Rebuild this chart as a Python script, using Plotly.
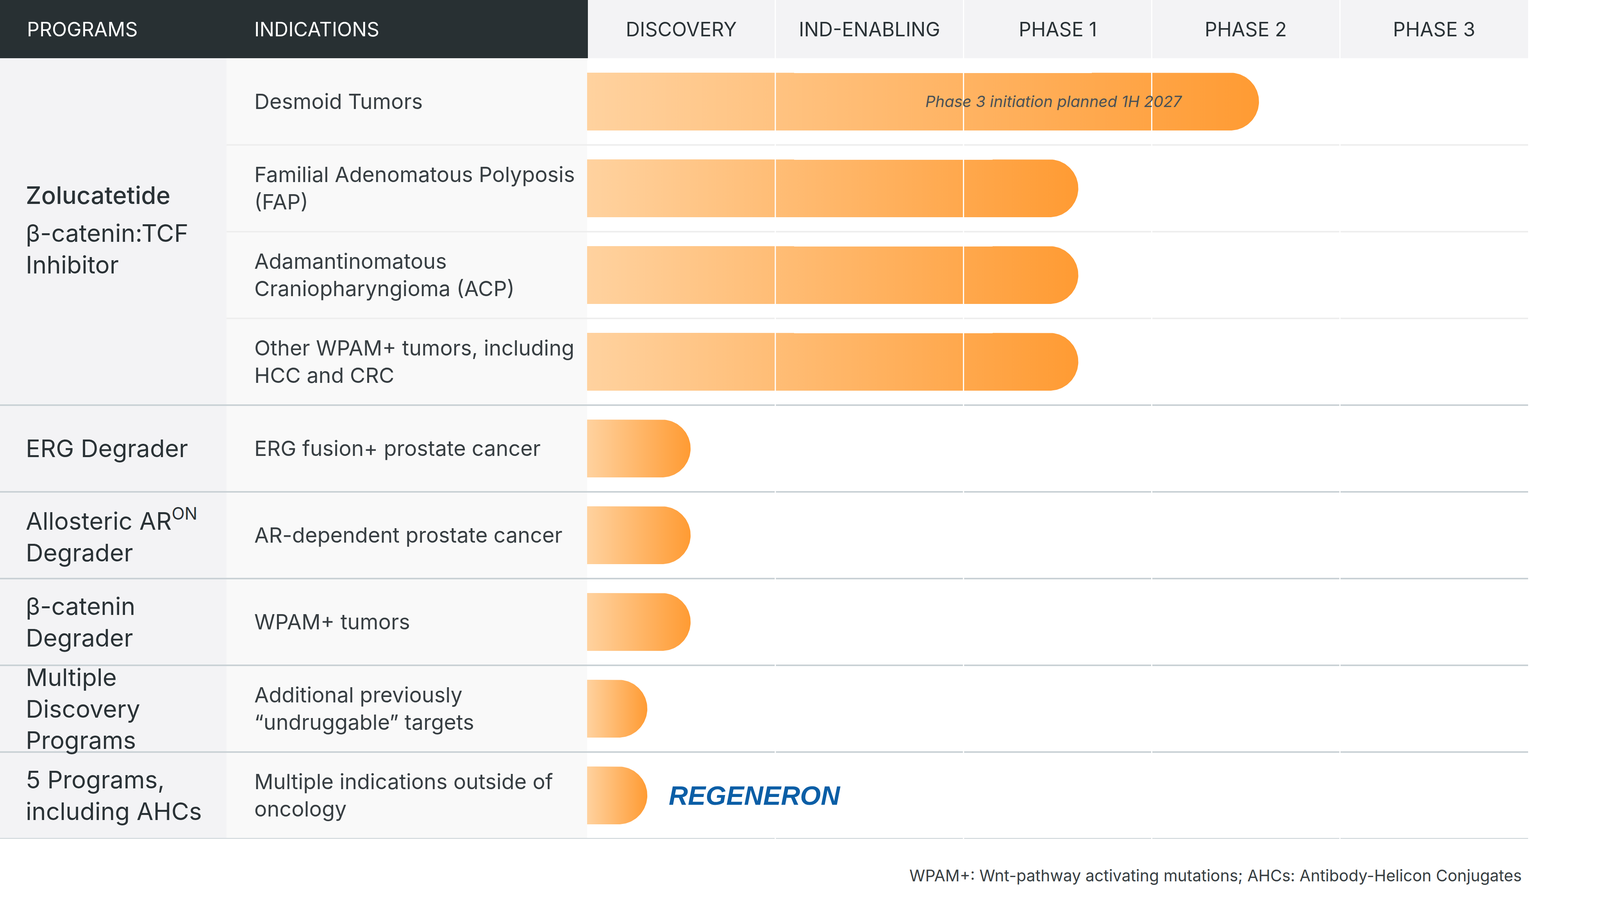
import numpy as np
import plotly.graph_objects as go

# ---------------- data ----------------
phases = ["DISCOVERY", "IND-ENABLING", "PHASE 1", "PHASE 2", "PHASE 3"]
indications = [
    "Desmoid Tumors",
    "Familial Adenomatous Polyposis<br>(FAP)",
    "Adamantinomatous<br>Craniopharyngioma (ACP)",
    "Other WPAM+ tumors, including<br>HCC and CRC",
    "ERG fusion+ prostate cancer",
    "AR-dependent prostate cancer",
    "WPAM+ tumors",
    "Additional previously<br>\u201cundruggable\u201d targets",
    "Multiple indications outside of<br>oncology",
]
progress = [3.57, 2.61, 2.61, 2.61, 0.55, 0.55, 0.55, 0.32, 0.32]  # in phase units
programs = [
    "Zolucatetide",
    "ERG Degrader",
    "Allosteric AR<sup>ON</sup><br>Degrader",
    "\u03b2-catenin<br>Degrader",
    "Multiple<br>Discovery<br>Programs",
    "5 Programs,<br>including AHCs",
]
program_first_row = [0, 4, 5, 6, 7, 8]
program_row_count = [4, 1, 1, 1, 1, 1]
zolu_subtitle = "\u03b2-catenin:TCF<br>Inhibitor"
bar_note = "Phase 3 initiation planned 1H 2027"
partner = "REGENERON"
footnote = "WPAM+: Wnt-pathway activating mutations; AHCs: Antibody-Helicon Conjugates"

# ---------------- layout constants ----------------
W, H = 4180, 2337
X_PROG, X_IND, X_PH0, X_PH1 = 0, 580, 1503, 3912
Y_TOP, Y_BOT = 149, 2147
NROWS = len(indications)
ROW_PX = (Y_BOT - Y_TOP) / NROWS
PHASE_PX = (X_PH1 - X_PH0) / len(phases)
BAR_HALF_PX = 74
ry = BAR_HALF_PX / ROW_PX
rx = BAR_HALF_PX / PHASE_PX
FONT = "Inter"
TXT = "#2a3236"
TXT2 = "#373e42"


def px(x):
    return x / W


def py(y):
    return 1 - y / H


fig = go.Figure()

# bars
for i, L in enumerate(progress):
    yc = i + 0.5
    t = np.linspace(-np.pi / 2, np.pi / 2, 60)
    cx = L - rx
    xs = [0, cx] + list(cx + rx * np.cos(t)) + [cx, 0, 0]
    ys = [yc - ry, yc - ry] + list(yc + ry * np.sin(t)) + [yc + ry, yc + ry, yc - ry]
    fig.add_trace(go.Scatter(
        x=xs, y=ys, mode="lines", fill="toself",
        line=dict(width=0, color="rgba(0,0,0,0)"),
        fillgradient=dict(type="horizontal",
                          colorscale=[[0, "#ffd29f"], [1, "#ff9b33"]],
                          start=0, stop=L),
        hoverinfo="skip", showlegend=False,
    ))

shapes = []
# backgrounds
shapes.append(dict(type="rect", xref="paper", yref="paper", x0=px(0), x1=px(1505),
                   y0=py(Y_TOP), y1=1, fillcolor="#283033", line_width=0, layer="below"))
shapes.append(dict(type="rect", xref="paper", yref="paper", x0=px(1505), x1=px(X_PH1),
                   y0=py(Y_TOP), y1=1, fillcolor="#f3f3f5", line_width=0, layer="below"))
shapes.append(dict(type="rect", xref="paper", yref="paper", x0=px(X_PROG), x1=px(X_IND),
                   y0=py(Y_BOT), y1=py(Y_TOP), fillcolor="#f3f3f5", line_width=0, layer="below"))
shapes.append(dict(type="rect", xref="paper", yref="paper", x0=px(X_IND), x1=px(X_PH0),
                   y0=py(Y_BOT), y1=py(Y_TOP), fillcolor="#f9f9f9", line_width=0, layer="below"))

# row separators
group_edges = set(f + c for f, c in zip(program_first_row, program_row_count))
for r in range(1, NROWS + 1):
    if r in group_edges:
        shapes.append(dict(type="line", xref="paper", yref="y", x0=px(0), x1=px(X_PH1),
                           y0=r, y1=r, line=dict(color="#c9d1d5", width=4), layer="below"))
    else:
        shapes.append(dict(type="line", xref="paper", yref="y", x0=px(X_IND), x1=px(X_PH1),
                           y0=r, y1=r, line=dict(color="#eeeeee", width=4), layer="below"))

# phase column dividers (white)
for k in range(1, len(phases)):
    shapes.append(dict(type="line", xref="x", yref="paper", x0=k, x1=k,
                       y0=py(Y_BOT + 4), y1=1, line=dict(color="white", width=3), layer="above"))

ann = []
# header
ann.append(dict(text="PROGRAMS", xref="paper", yref="paper", x=px(67), y=py(75),
                xanchor="left", yanchor="middle", showarrow=False,
                font=dict(family=FONT, size=50, color="white")))
ann.append(dict(text="INDICATIONS", xref="paper", yref="paper", x=px(649), y=py(75),
                xanchor="left", yanchor="middle", showarrow=False,
                font=dict(family=FONT, size=50, color="white")))
for k, ph in enumerate(phases):
    ann.append(dict(text=ph, xref="x", yref="paper", x=k + 0.5, y=py(75),
                    xanchor="center", yanchor="middle", showarrow=False,
                    font=dict(family=FONT, size=50, color=TXT)))

# indications
for i, t in enumerate(indications):
    ann.append(dict(text=t, xref="paper", yref="y", x=px(649), y=i + 0.5,
                    xanchor="left", yanchor="middle", align="left", showarrow=False,
                    font=dict(family=FONT, size=54, color=TXT2)))

# programs
for p, f, c in zip(programs, program_first_row, program_row_count):
    yc = f + c / 2
    if c > 1:
        ann.append(dict(text=p, xref="paper", yref="y", x=px(64), y=yc - 0.42,
                        xanchor="left", yanchor="middle", align="left", showarrow=False,
                        font=dict(family=FONT, size=62, color=TXT, weight=500)))
        ann.append(dict(text=zolu_subtitle, xref="paper", yref="y", x=px(64), y=yc + 0.2,
                        xanchor="left", yanchor="middle", align="left", showarrow=False,
                        font=dict(family=FONT, size=62, color=TXT)))
    else:
        ann.append(dict(text=p, xref="paper", yref="y", x=px(64), y=yc,
                        xanchor="left", yanchor="middle", align="left", showarrow=False,
                        font=dict(family=FONT, size=62, color=TXT)))

# bar note
ann.append(dict(text="<i>" + bar_note + "</i>", xref="x", yref="y", x=2.48, y=0.5,
                xanchor="center", yanchor="middle", showarrow=False,
                font=dict(family=FONT, size=40, color="#4a5156")))
# partner
ann.append(dict(text="<b><i>" + partner + "</i></b>", xref="x", yref="y",
                x=progress[-1] + 0.11, y=NROWS - 0.5,
                xanchor="left", yanchor="middle", showarrow=False,
                font=dict(family="Liberation Sans", size=68, color="#0b5ea6")))
# footnote
ann.append(dict(text=footnote, xref="paper", yref="paper", x=px(3898), y=py(2241),
                xanchor="right", yanchor="middle", showarrow=False,
                font=dict(family=FONT, size=41, color=TXT2)))

fig.update_layout(
    width=W, height=H, margin=dict(l=0, r=0, t=0, b=0),
    paper_bgcolor="white", plot_bgcolor="rgba(0,0,0,0)",
    xaxis=dict(domain=[px(X_PH0), px(X_PH1)], range=[0, len(phases)], visible=False, fixedrange=True),
    yaxis=dict(domain=[py(Y_BOT), py(Y_TOP)], range=[NROWS, 0], visible=False, fixedrange=True),
    shapes=shapes, annotations=ann, showlegend=False,
)

fig.write_html("out.html", post_script="document.body.style.margin='0px';")
